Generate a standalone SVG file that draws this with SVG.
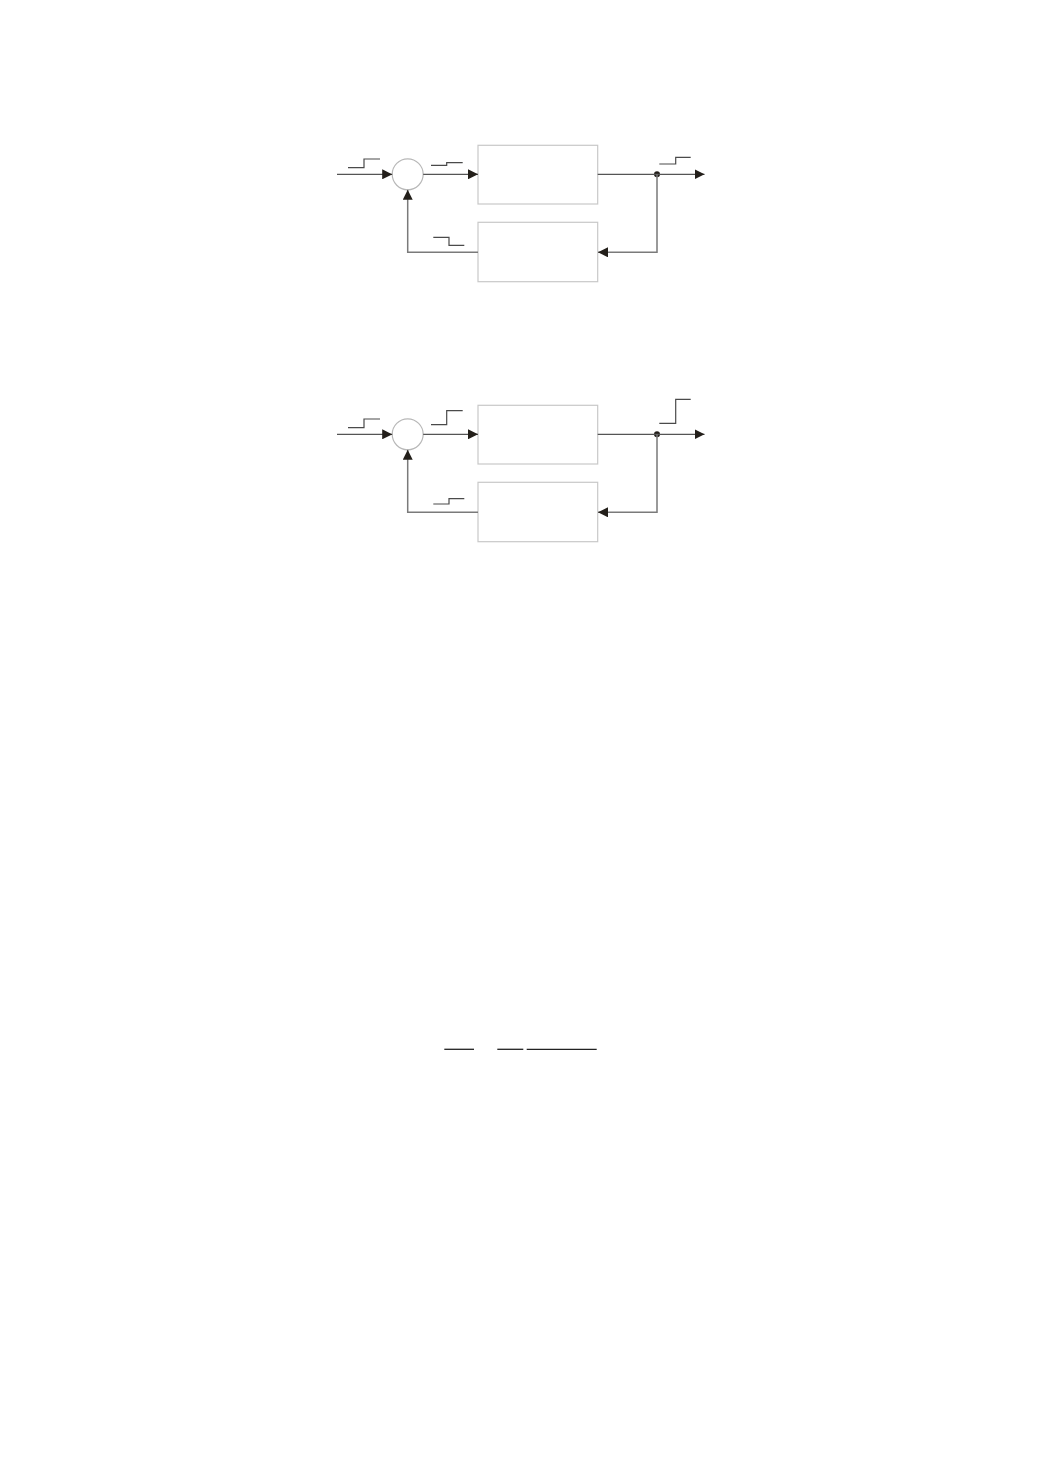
<svg xmlns="http://www.w3.org/2000/svg" width="1040" height="1473" viewBox="0 0 1040 1473">
<defs>
<style>
.box{fill:none;stroke:#c8c8c8;stroke-width:1.2}
.sum{fill:none;stroke:#b8b8b8;stroke-width:1.2}
.wire{fill:none;stroke:#555;stroke-width:1.3}
.fb{fill:none;stroke:#7a7a7a;stroke-width:1.5}
.sig{fill:none;stroke:#4a4a4a;stroke-width:1.2}
.bar{fill:none;stroke:#222;stroke-width:1.3}
</style>
<marker id="ah" viewBox="0 0 10 10" refX="10" refY="5" markerWidth="10" markerHeight="10" markerUnits="userSpaceOnUse" orient="auto">
<path d="M0,0 L10,5 L0,10 z" fill="#231f1a"/>
</marker>
</defs>
<rect width="1040" height="1473" fill="#fff"/>

<!-- Diagram 1 -->
<g id="d1-sum"><circle class="sum" cx="407.7" cy="174.3" r="15.5"/></g>
<g id="d1-forward"><rect class="box" x="478" y="145.3" width="119.7" height="58.7"/></g>
<g id="d1-feedback"><rect class="box" x="478" y="222.3" width="119.7" height="59.4"/></g>
<g id="d1-junction"><circle cx="657" cy="174.3" r="3" fill="#231f1a"/></g>
<g id="d1-connectors">
<line class="wire" x1="337" y1="174.3" x2="392.2" y2="174.3" marker-end="url(#ah)"/>
<line class="wire" x1="423.2" y1="174.3" x2="478" y2="174.3" marker-end="url(#ah)"/>
<line class="wire" x1="597.7" y1="174.3" x2="704.5" y2="174.3" marker-end="url(#ah)"/>
<polyline class="fb" points="657,174.3 657,252.3 598,252.3" marker-end="url(#ah)"/>
<polyline class="fb" points="478,252.3 407.7,252.3 407.7,189.8" marker-end="url(#ah)"/>
</g>
<g id="d1-signals">
<polyline class="sig" points="348,167.7 364,167.7 364,159 380,159"/>
<polyline class="sig" points="431,165.3 446.7,165.3 446.7,162.7 462.7,162.7"/>
<polyline class="sig" points="659.3,164 675.7,164 675.7,157.3 690.7,157.3"/>
<polyline class="sig" points="433.3,237.3 449,237.3 449,245.3 464.3,245.3"/>
</g>

<!-- Diagram 2 -->
<g id="d2-sum"><circle class="sum" cx="407.7" cy="434.3" r="15.5"/></g>
<g id="d2-forward"><rect class="box" x="478" y="405.3" width="119.7" height="58.7"/></g>
<g id="d2-feedback"><rect class="box" x="478" y="482.3" width="119.7" height="59.4"/></g>
<g id="d2-junction"><circle cx="657" cy="434.3" r="3" fill="#231f1a"/></g>
<g id="d2-connectors">
<line class="wire" x1="337" y1="434.3" x2="392.2" y2="434.3" marker-end="url(#ah)"/>
<line class="wire" x1="423.2" y1="434.3" x2="478" y2="434.3" marker-end="url(#ah)"/>
<line class="wire" x1="597.7" y1="434.3" x2="704.5" y2="434.3" marker-end="url(#ah)"/>
<polyline class="fb" points="657,434.3 657,512.3 598,512.3" marker-end="url(#ah)"/>
<polyline class="fb" points="478,512.3 407.7,512.3 407.7,449.8" marker-end="url(#ah)"/>
</g>
<g id="d2-signals">
<polyline class="sig" points="348,427.7 364,427.7 364,419 380,419"/>
<polyline class="sig" points="431,424.7 446.7,424.7 446.7,410.7 462.7,410.7"/>
<polyline class="sig" points="659.3,423.3 675.7,423.3 675.7,399.3 690.7,399.3"/>
<polyline class="sig" points="433.3,504 449,504 449,498.7 464.3,498.7"/>
</g>

<!-- Fraction bars -->
<g id="fraction-bars">
<line class="bar" x1="444.3" y1="1049.3" x2="474" y2="1049.3"/>
<line class="bar" x1="497.3" y1="1049.3" x2="523.3" y2="1049.3"/>
<line class="bar" x1="526.7" y1="1049.3" x2="596.7" y2="1049.3"/>
</g>
</svg>
